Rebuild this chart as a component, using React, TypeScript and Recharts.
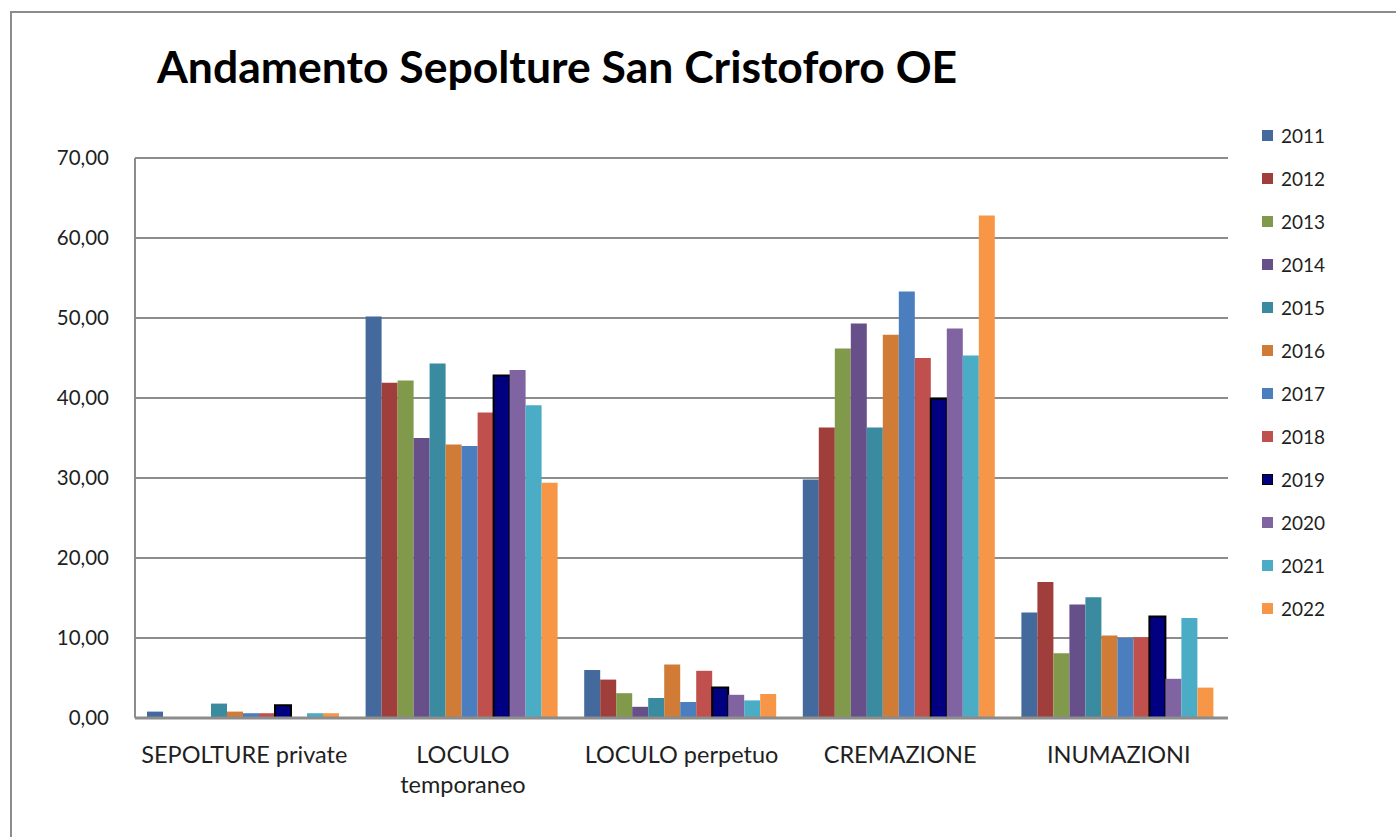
import { BarChart, Bar, XAxis, YAxis, CartesianGrid } from "recharts";

const categories = ["SEPOLTURE private", "LOCULO temporaneo", "LOCULO perpetuo", "CREMAZIONE", "INUMAZIONI"];
const categoryLines = [["SEPOLTURE private"], ["LOCULO", "temporaneo"], ["LOCULO perpetuo"], ["CREMAZIONE"], ["INUMAZIONI"]];
const yTicks = [0, 10, 20, 30, 40, 50, 60, 70];

const years = ["2011", "2012", "2013", "2014", "2015", "2016", "2017", "2018", "2019", "2020", "2021", "2022"];
const colors = [
  "#44699C", "#A03E3C", "#80994A", "#674F8A", "#3A8AA0", "#D17C36",
  "#4A7EBF", "#C0504D", "#000080", "#8064A2", "#4BACC6", "#F79646",
];

const v2011 = [0.8, 50.2, 6.0, 29.8, 13.2];
const v2012 = [0, 41.9, 4.8, 36.3, 17.0];
const v2013 = [0, 42.2, 3.1, 46.2, 8.1];
const v2014 = [0, 35.0, 1.4, 49.3, 14.2];
const v2015 = [1.8, 44.3, 2.5, 36.3, 15.1];
const v2016 = [0.8, 34.2, 6.7, 47.9, 10.3];
const v2017 = [0.6, 34.0, 2.0, 53.3, 10.0];
const v2018 = [0.6, 38.2, 5.9, 45.0, 10.1];
const v2019 = [1.6, 42.8, 3.8, 39.9, 12.7];
const v2020 = [0, 43.5, 2.9, 48.7, 4.9];
const v2021 = [0.6, 39.1, 2.2, 45.3, 12.5];
const v2022 = [0.6, 29.4, 3.0, 62.8, 3.8];

const seriesValues = [v2011, v2012, v2013, v2014, v2015, v2016, v2017, v2018, v2019, v2020, v2021, v2022];

const data = categories.map((name, i) => {
  const row: Record<string, string | number> = { name };
  years.forEach((y, j) => {
    row[y] = seriesValues[j][i];
  });
  return row;
});

const FONT = "Lato, 'Open Sans', sans-serif";

const CategoryTick = ({ x, y, index }: { x?: number; y?: number; index?: number }) => {
  const lines = categoryLines[index ?? 0] ?? [];
  return (
    <g>
      {lines.map((line, i) => (
        <text
          key={i}
          x={x}
          y={(y ?? 0) + 45 + i * 30}
          textAnchor="middle"
          fill="#1f1f1f"
          fontSize={23.5}
          fontFamily={FONT}
        >
          {line}
        </text>
      ))}
    </g>
  );
};

export default function App() {
  return (
    <div style={{ position: "relative", width: 1396, height: 837, background: "#fff", overflow: "hidden" }}>
      <style>{`body{margin:0;overflow:hidden;background:#fff}`}</style>
      <div
        style={{
          position: "absolute",
          left: 10,
          top: 11,
          width: 1500,
          height: 900,
          borderLeft: "2px solid #8c8c8c",
          borderTop: "2px solid #8c8c8c",
        }}
      />
      <div
        style={{
          position: "absolute",
          left: 157,
          top: 40,
          fontFamily: FONT,
          fontWeight: 700,
          fontSize: 44.5,
          lineHeight: "52px",
          color: "#000",
          whiteSpace: "nowrap",
        }}
      >
        Andamento Sepolture San Cristoforo OE
      </div>

      <div style={{ position: "absolute", left: 0, top: 0 }}>
        <BarChart
          width={1396}
          height={837}
          data={data}
          margin={{ top: 158, right: 168, left: 0, bottom: 0 }}
          barGap={0}
          barCategoryGap={12}
        >
          <CartesianGrid vertical={false} stroke="#8c8c8c" strokeWidth={2} />
          <XAxis
            dataKey="name"
            height={119}
            tickLine={false}
            tickSize={0}
            tickMargin={0}
            axisLine={{ stroke: "#8c8c8c", strokeWidth: 3 }}
            tick={<CategoryTick />}
            interval={0}
          />
          <YAxis
            width={135}
            domain={[0, 70]}
            ticks={yTicks}
            tickLine={false}
            tickSize={0}
            tickMargin={26}
            axisLine={{ stroke: "#8c8c8c", strokeWidth: 2 }}
            tickFormatter={(v: number) => v.toFixed(2).replace(".", ",")}
            tick={{ fill: "#1f1f1f", fontSize: 20.5, fontFamily: FONT }}
          />
          {years.map((y, j) => (
            <Bar
              key={y}
              dataKey={y}
              fill={colors[j]}
              stroke={y === "2019" ? "#000" : "none"}
              strokeWidth={y === "2019" ? 2 : 0}
              isAnimationActive={false}
            />
          ))}
        </BarChart>
      </div>

      <div style={{ position: "absolute", left: 1262, top: 135 }}>
        {years.map((y, j) => (
          <div
            key={y}
            style={{
              position: "absolute",
              left: 0,
              top: j * 43.06 - 14,
              height: 28,
              display: "flex",
              alignItems: "center",
              whiteSpace: "nowrap",
            }}
          >
            <span
              style={{
                display: "inline-block",
                width: y === "2019" ? 9 : 11,
                height: y === "2019" ? 9 : 11,
                background: colors[j],
                border: y === "2019" ? "1.5px solid #000" : "none",
                marginRight: 8,
              }}
            />
            <span style={{ fontFamily: FONT, fontSize: 19, color: "#1f1f1f" }}>{y}</span>
          </div>
        ))}
      </div>
    </div>
  );
}
